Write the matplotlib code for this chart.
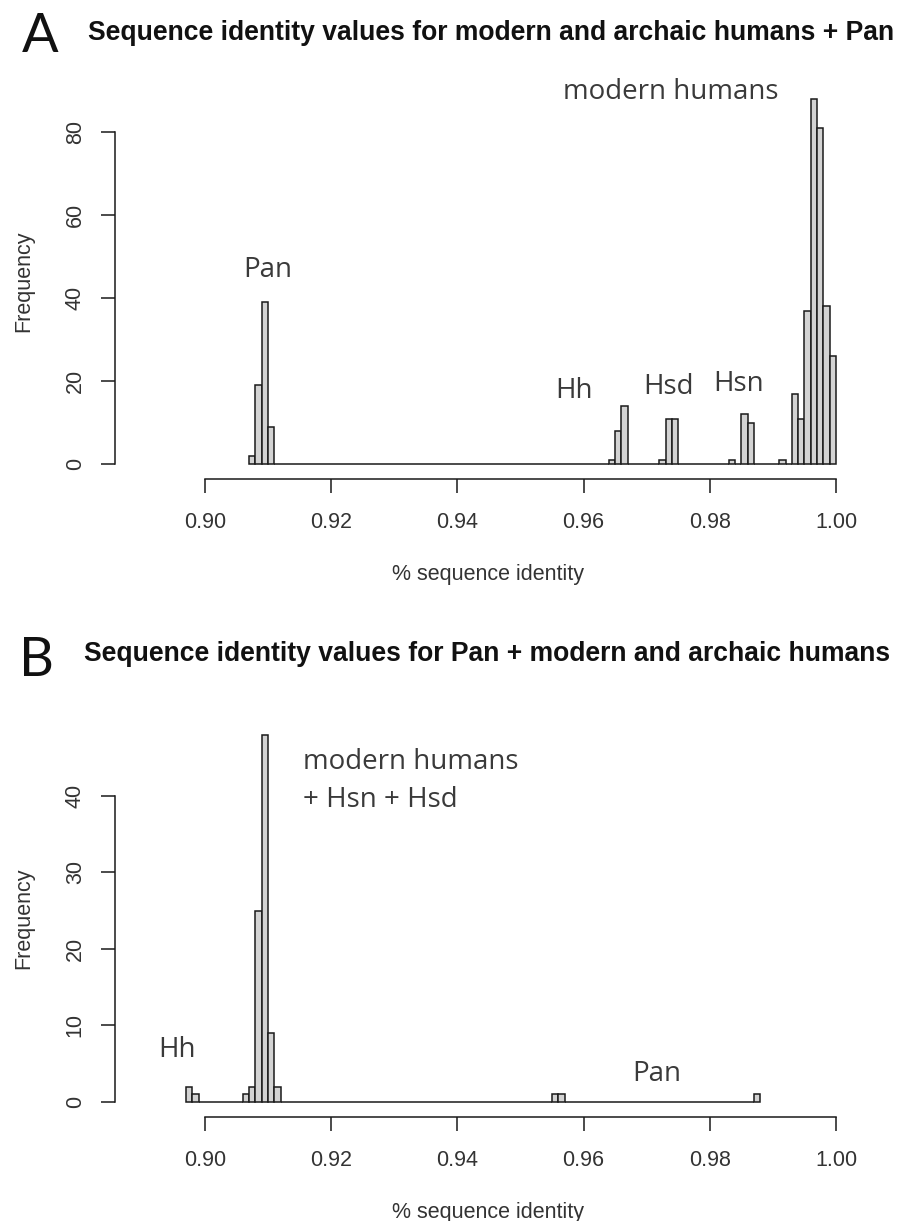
import numpy as np
import matplotlib
matplotlib.use('Agg')
import matplotlib.pyplot as plt

# panel A: histogram bins (left edges, width 0.001) and counts
a_first_bin=0.907
a_last_bin=0.999
a_bins=[0.907,0.908,0.909,0.910,0.964,0.965,0.966,0.972,0.973,0.974,
	0.983,0.985,0.986,0.991,0.993,0.994,0.995,0.996,0.997,0.998,0.999]
a_counts=[2,19,39,9,1,8,14,1,11,11,1,12,10,1,17,11,37,88,81,38,26]

# panel B
b_first_bin=0.897
b_last_bin=0.987
b_bins=[0.897,0.898,0.906,0.907,0.908,0.909,0.910,0.911,0.955,0.956,0.987]
b_counts=[2,1,1,2,25,48,9,2,1,1,1]

bin_width=0.001
x_ticks=[0.90,0.92,0.94,0.96,0.98,1.00]
x_ticklabels=['0.90','0.92','0.94','0.96','0.98','1.00']
a_yticks=[0,20,40,60,80]
b_yticks=[0,10,20,30,40]

a_title='Sequence identity values for modern and archaic humans + Pan'
b_title='Sequence identity values for Pan + modern and archaic humans'

# annotations: (text, x, y, ha)
a_notes=[('Pan',0.9100,46.7,'center'),('Hh',0.9585,17.6,'center'),
	('Hsd',0.9735,18.6,'center'),('Hsn',0.9845,19.3,'center'),
	('modern humans',0.9567,89.6,'left')]
b_notes=[('modern humans',0.9155,44.4,'left'),('+ Hsn + Hsd',0.9155,39.5,'left'),
	('Hh',0.8956,6.8,'center'),('Pan',0.9716,3.66,'center')]


def full_counts(first,last,bins,counts):
	n=int(round((last-first)/bin_width))+1
	lefts=first+np.arange(n)*bin_width
	h=np.zeros(n)
	for b,c in zip(bins,counts):
		h[int(round((b-first)/bin_width))]=c
	return lefts,h


def draw_panel(ax,lefts,h,yticks,ymax,notes):
	ax.bar(lefts,h,width=bin_width,align='edge',color='#d3d3d3',
		edgecolor='#1a1a1a',linewidth=1.1)
	ax.set_xlim(0.88574,1.00396)
	ax.set_ylim(-0.04*ymax,1.04*ymax)
	for s in ['top','right']:
		ax.spines[s].set_visible(False)
	ax.spines['left'].set_bounds(yticks[0],yticks[-1])
	ax.spines['bottom'].set_bounds(x_ticks[0],x_ticks[-1])
	for s in ['left','bottom']:
		ax.spines[s].set_linewidth(1.1)
		ax.spines[s].set_color('#1a1a1a')
	ax.set_xticks(x_ticks)
	ax.set_xticklabels(x_ticklabels)
	ax.set_yticks(yticks)
	ax.set_yticklabels([str(t) for t in yticks],rotation=90,va='center')
	ax.tick_params(axis='both',length=10,width=1.1,color='#1a1a1a',
		labelsize=15.5,labelcolor='#333333')
	ax.tick_params(axis='x',pad=14)
	ax.tick_params(axis='y',pad=11)
	ax.set_xlabel('% sequence identity',fontsize=15.5,color='#333333',labelpad=22)
	ax.set_ylabel('Frequency',fontsize=15.5,color='#333333',labelpad=22)
	for txt,x,y,ha in notes:
		ax.text(x,y,txt,ha=ha,va='center',fontsize=20,family='Open Sans',color='#3a3a3a')


if __name__=='__main__':
	plt.rcParams['font.family']=['Liberation Sans','DejaVu Sans']
	fig=plt.figure(figsize=(8.98,12.21),dpi=100)

	ax1=fig.add_axes([115/898,1-479/1221,746/898,395/1221])
	lefts,h=full_counts(a_first_bin,a_last_bin,a_bins,a_counts)
	draw_panel(ax1,lefts,h,a_yticks,max(a_counts),a_notes)

	ax2=fig.add_axes([115/898,1-1116.7/1221,746/898,396.7/1221])
	lefts,h=full_counts(b_first_bin,b_last_bin,b_bins,b_counts)
	draw_panel(ax2,lefts,h,b_yticks,max(b_counts),b_notes)

	fig.text(88/898,1-33/1221,a_title,ha='left',va='center',fontsize=19.1,weight='bold',color='#111111')
	fig.text(84/898,1-654/1221,b_title,ha='left',va='center',fontsize=19.1,weight='bold',color='#111111')
	fig.text(40/898,1-36/1221,'A',ha='center',va='center',fontsize=39,family='Lato',color='#111111')
	fig.text(37/898,1-660/1221,'B',ha='center',va='center',fontsize=39,family='Lato',color='#111111')

	fig.savefig('out.png',dpi=100)
